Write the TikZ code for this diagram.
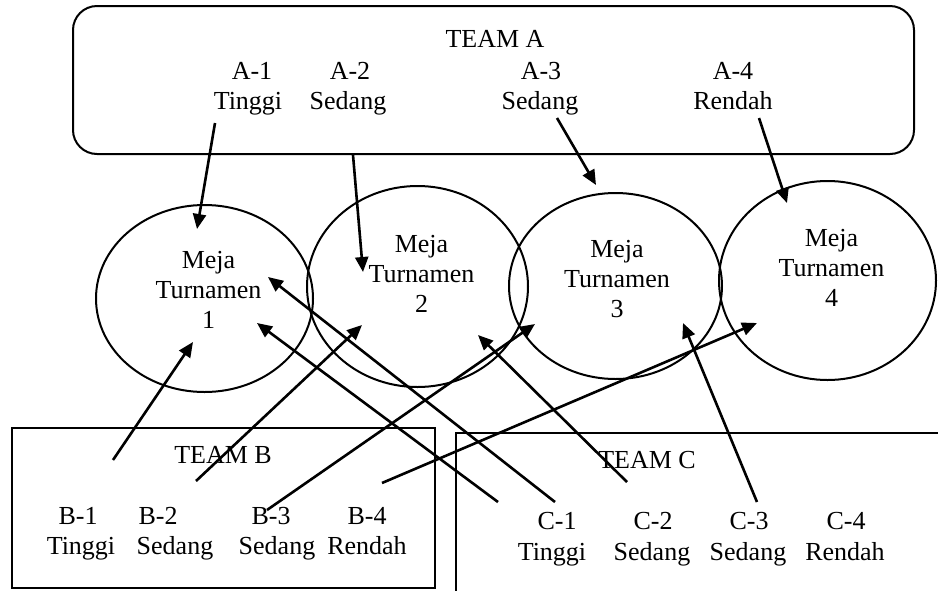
\documentclass[tikz,border=0pt]{standalone}
\usepackage{fontspec}
\setmainfont{Liberation Serif}
\usetikzlibrary{shapes.geometric}
\usetikzlibrary{arrows.meta}

\begin{document}
\begin{tikzpicture}[x=0.5pt,y=-0.5pt,
  teks/.style={font=\fontsize{13}{15}\selectfont,text=black,anchor=base,inner sep=0pt},
  meja/.style={ellipse,draw=black,line width=1pt,inner sep=0pt},
  panah/.style={-{Triangle[length=7.5pt,width=6.5pt]},black,line width=1.3pt}]
\useasboundingbox (0,0) rectangle (938,590);

\draw[black,line width=1pt,rounded corners=12pt] (73,6) rectangle (914,154);
\node[teks] (timA) at (495,47) {TEAM A};
\node[teks] (a1id) at (252,79) {A-1};
\node[teks] (a1lv) at (248,109) {Tinggi};
\node[teks] (a2id) at (350,79) {A-2};
\node[teks] (a2lv) at (348,109) {Sedang};
\node[teks] (a3id) at (541,79) {A-3};
\node[teks] (a3lv) at (540,109) {Sedang};
\node[teks] (a4id) at (733,79) {A-4};
\node[teks] (a4lv) at (733,109) {Rendah};

\node[meja,minimum width=108.5pt,minimum height=93.5pt] (meja1) at (204.5,298.5) {};
\node[meja,minimum width=110.5pt,minimum height=100.5pt] (meja2) at (417.5,286.5) {};
\node[meja,minimum width=106.5pt,minimum height=93pt] (meja3) at (615.5,286) {};
\node[meja,minimum width=108.5pt,minimum height=99.5pt] (meja4) at (827.5,280.5) {};
\node[teks,align=center] (lbl1) at (208.5,328) {Meja\\Turnamen\\1};
\node[teks,align=center] (lbl2) at (421.5,312) {Meja\\Turnamen\\2};
\node[teks,align=center] (lbl3) at (617,317) {Meja\\Turnamen\\3};
\node[teks,align=center] (lbl4) at (831.5,306) {Meja\\Turnamen\\4};

\draw[black,line width=1pt] (12,428) rectangle (435,588);
\node[teks] (timB) at (223,463) {TEAM B};
\node[teks] (b1id) at (78,524) {B-1};
\node[teks] (b1lv) at (81,554) {Tinggi};
\node[teks] (b2id) at (158,524) {B-2};
\node[teks] (b2lv) at (175,554) {Sedang};
\node[teks] (b3id) at (271,524) {B-3};
\node[teks] (b3lv) at (277,554) {Sedang};
\node[teks] (b4id) at (367,524) {B-4};
\node[teks] (b4lv) at (367,554) {Rendah};

\draw[black,line width=1pt] (456,600) -- (456,433) -- (945,433);
\node[teks] (timC) at (647,468) {TEAM C};
\node[teks] (c1id) at (557,529) {C-1};
\node[teks] (c1lv) at (552,560) {Tinggi};
\node[teks] (c2id) at (653,529) {C-2};
\node[teks] (c2lv) at (652,560) {Sedang};
\node[teks] (c3id) at (749,529) {C-3};
\node[teks] (c3lv) at (748,560) {Sedang};
\node[teks] (c4id) at (846,529) {C-4};
\node[teks] (c4lv) at (845,560) {Rendah};

\coordinate (a1s) at (215,123);
\coordinate (a1e) at (197,229);
\coordinate (a2s) at (353,155);
\coordinate (a2e) at (363,272);
\coordinate (a3s) at (557,118);
\coordinate (a3e) at (596,185);
\coordinate (a4s) at (759,118);
\coordinate (a4e) at (787,203);
\coordinate (b1s) at (113,460);
\coordinate (b1e) at (193,342);
\coordinate (b2s) at (196,481);
\coordinate (b2e) at (362,325);
\coordinate (b3s) at (267,510);
\coordinate (b3e) at (535,324);
\coordinate (b4s) at (382,483);
\coordinate (b4e) at (757,323);
\coordinate (c1s) at (555,502);
\coordinate (c1e) at (268,277);
\coordinate (c5s) at (498,502);
\coordinate (c5e) at (257,323);
\coordinate (c2s) at (627,482);
\coordinate (c2e) at (478,335);
\coordinate (c3s) at (757,502);
\coordinate (c3e) at (683,323);

\draw[panah] (a1s) -- (a1e);
\draw[panah] (a2s) -- (a2e);
\draw[panah] (a3s) -- (a3e);
\draw[panah] (a4s) -- (a4e);
\draw[panah] (b1s) -- (b1e);
\draw[panah] (b2s) -- (b2e);
\draw[panah] (b3s) -- (b3e);
\draw[panah] (b4s) -- (b4e);
\draw[panah] (c1s) -- (c1e);
\draw[panah] (c5s) -- (c5e);
\draw[panah] (c2s) -- (c2e);
\draw[panah] (c3s) -- (c3e);

\end{tikzpicture}
\end{document}
